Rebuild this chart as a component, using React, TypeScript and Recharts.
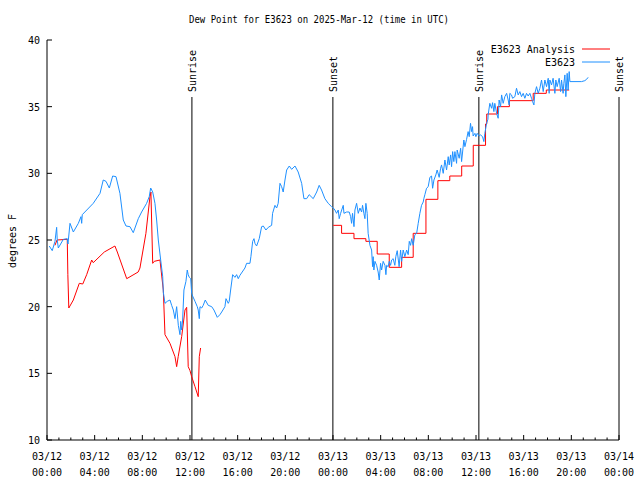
import React from 'react';
import { LineChart, Line, XAxis, YAxis, ReferenceLine, Legend } from 'recharts';

// hours since 2025-03-12 00:00 UTC, dew point (deg F)
const analysisEarly: [number, number][] = [
  [0.67, 24.6], [0.84, 25.0], [1.7, 25.05], [1.75, 22.4], [1.83, 19.9], [2.21, 20.5], [2.71, 21.75], [3.0, 21.7],
  [3.33, 22.4], [3.75, 23.5], [3.88, 23.3], [4.81, 24.1], [5.7, 24.55], [5.9, 24.1], [6.69, 22.1], [7.65, 22.6],
  [7.8, 22.9], [8.3, 25.5], [8.64, 28.25], [8.72, 28.6], [8.87, 23.25], [9.0, 23.4], [9.48, 23.5], [9.76, 21.25],
  [9.9, 17.9], [10.32, 17.25], [10.74, 16.25], [10.88, 15.5], [11.01, 16.25], [11.3, 17.75], [11.58, 19.75],
  [11.72, 19.95], [11.85, 15.5], [12.0, 15.2], [12.14, 14.75], [12.42, 14.0], [12.69, 13.25], [12.78, 16.25],
  [12.89, 16.9],
];

const analysisLate: [number, number][] = [
  [24.02, 26.1], [24.72, 25.5], [25.76, 25.1], [26.76, 24.9], [27.71, 23.95], [28.72, 22.95], [29.76, 23.7],
  [30.73, 25.5], [31.8, 28.05], [32.8, 29.45], [33.8, 29.8], [34.8, 30.55], [35.77, 32.1], [36.8, 33.7],
  [36.9, 34.45], [37.8, 35.0], [38.8, 35.45], [40.8, 36.0], [41.9, 36.25], [43.82, 36.25],
];

const observed: [number, number][] = [
  [0.19, 24.55], [0.44, 24.2], [0.67, 24.9], [0.81, 25.95], [0.86, 25.0], [0.95, 24.4], [1.37, 25.05], [1.7, 25.1],
  [1.76, 24.7], [1.93, 26.25], [2.21, 25.6], [2.63, 26.25], [2.85, 26.75], [2.91, 26.25], [2.96, 26.9], [3.88, 27.75],
  [4.45, 28.5], [4.72, 29.5], [4.95, 29.4], [5.23, 28.9], [5.51, 29.8], [5.79, 29.75], [6.12, 28.5], [6.4, 26.5],
  [6.63, 26.05], [6.96, 26.0], [7.24, 25.55], [7.66, 26.6], [7.94, 27.1], [8.36, 27.75], [8.58, 28.25], [8.7, 28.9],
  [8.87, 28.6], [9.06, 27.75], [9.2, 26.5], [9.34, 25.0], [9.54, 23.5], [9.71, 22.25], [9.76, 21.1], [9.9, 20.25],
  [10.09, 20.4], [10.32, 20.5], [10.46, 20.1], [10.6, 19.75], [10.74, 19.1], [10.88, 20.0], [11.02, 18.6],
  [11.16, 17.9], [11.22, 18.9], [11.3, 18.25], [11.38, 19.0], [11.49, 21.25], [11.66, 21.9], [11.77, 22.75],
  [11.85, 22.4], [11.94, 22.2], [12.06, 22.1], [12.14, 21.0], [12.22, 20.8], [12.42, 20.4], [12.61, 20.0],
  [12.69, 19.75], [12.78, 19.1], [12.84, 20.0], [12.98, 19.9], [13.11, 20.1], [13.28, 20.5], [13.53, 20.1],
  [13.82, 20.0], [14.01, 19.75], [14.29, 19.2], [14.51, 19.4], [14.66, 19.6], [14.93, 20.0], [15.02, 20.6],
  [15.21, 20.25], [15.29, 20.4], [15.41, 21.25], [15.58, 22.4], [15.77, 22.2], [15.91, 22.4], [16.05, 22.1],
  [16.19, 22.35], [16.61, 22.9], [16.75, 23.25], [17.03, 23.25], [17.11, 23.75], [17.26, 24.9], [17.37, 25.1],
  [17.45, 24.75], [17.59, 24.55], [17.81, 25.1], [18.01, 26.0], [18.15, 26.05], [18.37, 25.75], [18.57, 25.95],
  [18.85, 26.1], [18.93, 27.0], [19.13, 27.6], [19.27, 27.4], [19.4, 27.75], [19.55, 29.25], [19.69, 29.0],
  [19.82, 28.6], [19.97, 29.5], [20.11, 30.25], [20.33, 30.55], [20.53, 30.3], [20.81, 30.55], [21.08, 30.1],
  [21.37, 29.25], [21.56, 28.1], [21.79, 28.1], [22.0, 28.4], [22.34, 28.1], [22.63, 28.6], [22.84, 29.1],
  [23.04, 28.75], [23.32, 28.1], [23.6, 27.75], [23.88, 27.5],
  [24.02, 27.4], [24.16, 27.25], [24.3, 27.0], [24.44, 27.25], [24.52, 26.6], [24.64, 27.0], [24.86, 27.6],
  [24.92, 27.0], [25.14, 27.1], [25.36, 27.1], [25.48, 26.75], [25.56, 26.25], [25.64, 27.0], [25.76, 26.0],
  [25.84, 27.25], [25.98, 27.75], [26.12, 27.0], [26.26, 27.4], [26.4, 27.1], [26.48, 27.6], [26.59, 27.0],
  [26.68, 26.6], [26.76, 27.75], [26.87, 27.0], [26.95, 25.5], [27.1, 24.6], [27.24, 24.25], [27.32, 23.0],
  [27.37, 23.75], [27.43, 22.75], [27.52, 23.4], [27.66, 23.1], [27.79, 22.6], [27.88, 22.0], [27.99, 23.25],
  [28.08, 22.75], [28.21, 23.4], [28.36, 23.1], [28.44, 22.4], [28.5, 23.1], [28.63, 23.0], [28.72, 23.4],
  [28.83, 23.1], [28.92, 23.5], [29.05, 23.6], [29.19, 23.1], [29.27, 23.75], [29.39, 24.2], [29.55, 23.0],
  [29.67, 24.25], [29.76, 23.4], [29.89, 24.25], [30.03, 23.75], [30.18, 24.25], [30.31, 23.9], [30.4, 24.9],
  [30.51, 24.6], [30.6, 25.1], [30.73, 24.6], [30.87, 25.4], [31.02, 25.5], [31.15, 26.25], [31.29, 27.0],
  [31.43, 27.6], [31.57, 27.85], [31.63, 28.13], [31.71, 28.4], [31.85, 28.88], [31.99, 29.0], [32.13, 29.7],
  [32.27, 29.8], [32.36, 28.88], [32.47, 29.5], [32.63, 29.88], [32.74, 30.25], [32.91, 29.7], [33.03, 30.38],
  [33.11, 30.63], [33.25, 30.0], [33.39, 31.0], [33.53, 30.25], [33.67, 31.25], [33.75, 30.63], [33.87, 31.38],
  [33.95, 30.5], [34.04, 31.63], [34.14, 30.88], [34.23, 31.63], [34.37, 30.75], [34.42, 31.75], [34.59, 31.13],
  [34.71, 31.88], [34.79, 30.88], [34.98, 32.5], [35.07, 32.0], [35.21, 32.55], [35.34, 33.13], [35.43, 32.75],
  [35.54, 33.75], [35.63, 33.13], [35.71, 33.5], [35.76, 32.8], [35.91, 33.0], [35.99, 32.75], [36.1, 33.0],
  [36.27, 32.8], [36.38, 32.88], [36.55, 32.75], [36.66, 32.38], [36.74, 33.0], [36.89, 33.75], [37.0, 34.05],
  [37.02, 34.38], [37.16, 35.25], [37.31, 34.88], [37.39, 35.3], [37.5, 34.63], [37.58, 35.25], [37.73, 34.5],
  [37.86, 34.13], [37.94, 35.5], [38.06, 35.0], [38.15, 35.88], [38.28, 35.25], [38.42, 35.75], [38.57, 36.0],
  [38.7, 35.5], [38.78, 35.13], [38.84, 36.0], [38.98, 35.88], [39.07, 35.63], [39.26, 35.75], [39.4, 36.38],
  [39.54, 35.88], [39.68, 36.13], [39.82, 35.75], [39.96, 36.0], [40.1, 35.63], [40.24, 36.0], [40.38, 35.8],
  [40.52, 36.0], [40.66, 35.63], [40.75, 35.38], [40.86, 35.13], [40.94, 36.0], [41.08, 36.5], [41.22, 36.0],
  [41.36, 36.38], [41.5, 37.0], [41.64, 36.13], [41.78, 37.0], [41.92, 36.5], [42.06, 37.13], [42.14, 36.0],
  [42.2, 37.0], [42.34, 36.63], [42.47, 37.13], [42.62, 36.0], [42.7, 37.0], [42.81, 36.5], [42.98, 37.13],
  [43.1, 36.13], [43.18, 37.0], [43.31, 36.0], [43.37, 36.75], [43.46, 37.38], [43.54, 35.75], [43.65, 37.5],
  [43.73, 36.25], [43.82, 37.63], [43.88, 36.88], [44.86, 36.88], [45.13, 36.95], [45.28, 37.05], [45.41, 37.2],
];

const sunEvents = [
  { h: 12.16, label: 'Sunrise' },
  { h: 23.99, label: 'Sunset' },
  { h: 36.24, label: 'Sunrise' },
  { h: 48, label: 'Sunset' },
];

const xMinorHours = [0, 1, 2, 3, 4, 5, 6, 7, 8, 9, 10, 11, 12, 13, 14, 15, 16, 17, 18, 19, 20, 21, 22, 23, 24,
  25, 26, 27, 28, 29, 30, 31, 32, 33, 34, 35, 36, 37, 38, 39, 40, 41, 42, 43, 44, 45, 46, 47, 48];
const xTickHours = [0, 4, 8, 12, 16, 20, 24, 28, 32, 36, 40, 44, 48];
const xTickDates = ['03/12', '03/12', '03/12', '03/12', '03/12', '03/12', '03/13', '03/13', '03/13', '03/13', '03/13', '03/13', '03/14'];
const xTickTimes = ['00:00', '04:00', '08:00', '12:00', '16:00', '20:00', '00:00', '04:00', '08:00', '12:00', '16:00', '20:00', '00:00'];
const yTicks = [10, 15, 20, 25, 30, 35, 40];

const titleText = 'Dew Point for E3623 on 2025-Mar-12 (time in UTC)';
const yLabelText = 'degrees F';

const RED = '#ff0000';
const BLUE = '#1e90ff';
const legendItems = [
  { name: 'E3623 Analysis', color: RED },
  { name: 'E3623', color: BLUE },
];

const FONT = '"DejaVu Sans Mono", "Liberation Mono", monospace';
const FS = 10;

const toPts = (arr: [number, number][]) => arr.map(([h, v]) => ({ h, v }));

const BottomTick = (props: any) => {
  const { x, y, payload } = props;
  const idx = xTickHours.indexOf(payload.value);
  const major = idx >= 0;
  return (
    <g>
      <line x1={x} x2={x} y1={y} y2={y - (major ? 5 : 2.5)} stroke="#000" />
      {major && (
        <text x={x} y={y + 20} textAnchor="middle" fontFamily={FONT} fontSize={FS} fill="#000">
          {xTickDates[idx]}
        </text>
      )}
      {major && (
        <text x={x} y={y + 36} textAnchor="middle" fontFamily={FONT} fontSize={FS} fill="#000">
          {xTickTimes[idx]}
        </text>
      )}
    </g>
  );
};

const TopTick = (props: any) => {
  const { x, y, payload } = props;
  const major = xTickHours.indexOf(payload.value) >= 0;
  return <line x1={x} x2={x} y1={y} y2={y + (major ? 5 : 2.5)} stroke="#000" />;
};

const LeftTick = (props: any) => {
  const { x, y, payload } = props;
  return (
    <g>
      <line x1={x} x2={x + 5} y1={y} y2={y} stroke="#000" />
      <text x={x - 7} y={y + 4} textAnchor="end" fontFamily={FONT} fontSize={FS} fill="#000">
        {payload.value}
      </text>
    </g>
  );
};

const RightTick = (props: any) => {
  const { x, y } = props;
  return <line x1={x} x2={x - 5} y1={y} y2={y} stroke="#000" />;
};

const makeSunShape = (label: string) => (props: any) => {
  const x = props.x1;
  const yBottom = Math.max(props.y1, props.y2);
  const yTop = Math.min(props.y1, props.y2);
  const textBottom = yTop + 52;
  return (
    <g>
      <line x1={x} x2={x} y1={yTop + 57} y2={yBottom} stroke="#000" strokeWidth={1} />
      <text
        x={x + 4}
        y={textBottom}
        transform={`rotate(-90 ${x + 4} ${textBottom})`}
        textAnchor="start"
        fontFamily={FONT}
        fontSize={FS}
        fill="#000"
      >
        {label}
      </text>
    </g>
  );
};

const renderLegend = () => (
  <svg width={160} height={30} style={{ display: 'block' }}>
    {legendItems.map((it, i) => (
      <g key={it.name}>
        <text x={105} y={9 + i * 13} textAnchor="end" fontFamily={FONT} fontSize={FS} fill="#000">
          {it.name}
        </text>
        <line x1={112} x2={140} y1={5 + i * 13} y2={5 + i * 13} stroke={it.color} strokeWidth={1} />
      </g>
    ))}
  </svg>
);

export default function App() {
  return (
    <div style={{ position: 'absolute', left: 0, top: 0, background: '#fff' }}>
      <LineChart width={640} height={480} margin={{ top: 40, right: 21, bottom: 0, left: 0 }}>
        <text
          x={189}
          y={23}
          textAnchor="start"
          textLength={260}
          lengthAdjust="spacingAndGlyphs"
          fontFamily={FONT}
          fontSize={FS}
          fill="#000"
        >
          {titleText}
        </text>
        <text
          x={16}
          y={241}
          transform="rotate(-90 16 241)"
          textAnchor="middle"
          fontFamily={FONT}
          fontSize={FS}
          fill="#000"
        >
          {yLabelText}
        </text>
        <XAxis
          xAxisId="b"
          dataKey="h"
          type="number"
          domain={[0, 48]}
          allowDataOverflow
          ticks={xMinorHours}
          interval={0}
          height={40}
          tickSize={0}
          tickMargin={0}
          tickLine={false}
          axisLine={{ stroke: '#000' }}
          tick={<BottomTick />}
        />
        <XAxis
          xAxisId="t"
          orientation="top"
          dataKey="h"
          type="number"
          domain={[0, 48]}
          allowDataOverflow
          ticks={xMinorHours}
          interval={0}
          height={0}
          tickSize={0}
          tickMargin={0}
          tickLine={false}
          axisLine={{ stroke: '#000' }}
          tick={<TopTick />}
        />
        <YAxis
          yAxisId="l"
          type="number"
          domain={[10, 40]}
          allowDataOverflow
          ticks={yTicks}
          interval={0}
          width={47}
          tickSize={0}
          tickMargin={0}
          tickLine={false}
          axisLine={{ stroke: '#000' }}
          tick={<LeftTick />}
        />
        <YAxis
          yAxisId="r"
          orientation="right"
          type="number"
          domain={[10, 40]}
          allowDataOverflow
          ticks={yTicks}
          interval={0}
          width={0}
          tickSize={0}
          tickMargin={0}
          tickLine={false}
          axisLine={{ stroke: '#000' }}
          tick={<RightTick />}
        />
        {sunEvents.map((e, i) => (
          <ReferenceLine
            key={i}
            xAxisId="b"
            yAxisId="l"
            x={e.h}
            stroke="#000"
            shape={makeSunShape(e.label)}
          />
        ))}
        <Line
          xAxisId="b"
          yAxisId="l"
          data={toPts(analysisEarly)}
          dataKey="v"
          type="linear"
          stroke={RED}
          strokeWidth={1}
          dot={false}
          activeDot={false}
          isAnimationActive={false}
        />
        <Line
          xAxisId="b"
          yAxisId="l"
          data={toPts(analysisLate)}
          dataKey="v"
          type="stepAfter"
          stroke={RED}
          strokeWidth={1}
          dot={false}
          activeDot={false}
          isAnimationActive={false}
        />
        <Line
          xAxisId="b"
          yAxisId="l"
          data={toPts(observed)}
          dataKey="v"
          type="linear"
          stroke={BLUE}
          strokeWidth={1}
          dot={false}
          activeDot={false}
          isAnimationActive={false}
        />
        <Legend
          layout="vertical"
          align="center"
          verticalAlign="middle"
          wrapperStyle={{ top: 44, left: 470, width: 160, height: 30 }}
          content={renderLegend}
        />
      </LineChart>
    </div>
  );
}
